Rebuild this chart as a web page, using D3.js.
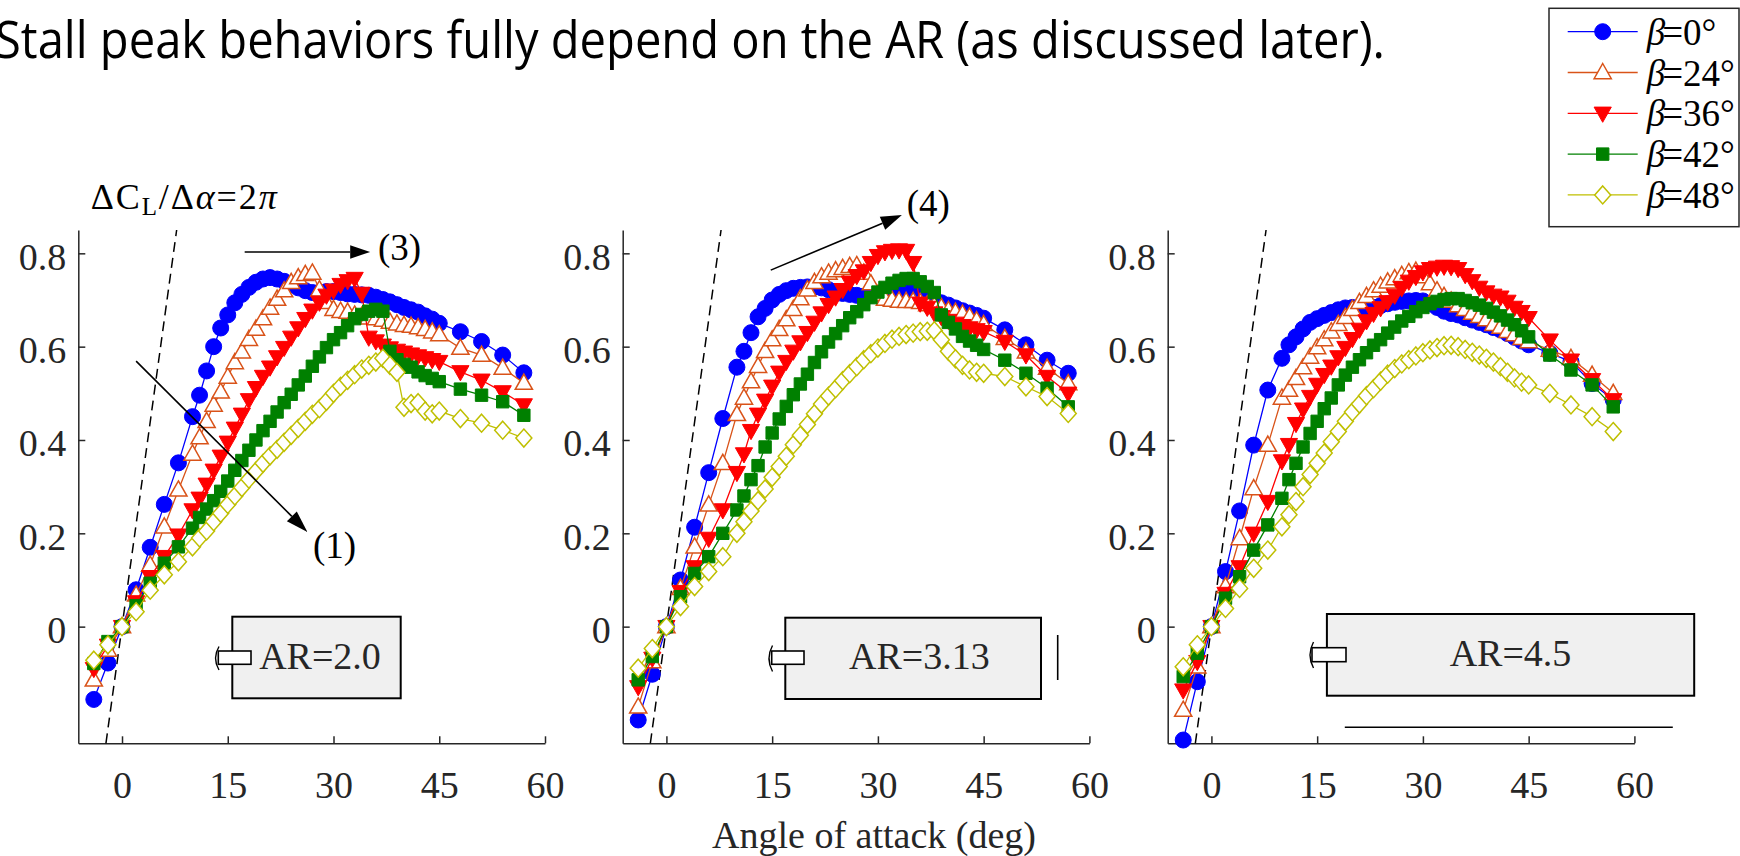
<!DOCTYPE html>
<html>
<head>
<meta charset="utf-8">
<script src="https://cdn.jsdelivr.net/npm/d3@7"></script>
<style>
  body { margin: 0; background: #ffffff; }
  svg { display: block; }
</style>
</head>
<body>
<svg id="chart" width="1740" height="856"></svg>
<script>
// Angle-of-attack sampling (deg), shared by every series
const alphaDeg = [-4, -2, 0, 2, 4, 6, 8,
  10, 11, 12, 13, 14, 15, 16, 17, 18, 19, 20, 21, 22, 23, 24, 25, 26, 27, 28, 29,
  30, 31, 32, 33, 34, 35, 36, 37, 38, 39, 40, 41, 42, 43, 44, 45,
  48, 51, 54, 57];

const betaLabels = ["0", "24", "36", "42", "48"];
const arLabels = ["AR=2.0", "AR=3.13", "AR=4.5"];
const xTicks = [0, 15, 30, 45, 60];
const yTicks = [0, 0.2, 0.4, 0.6, 0.8];
const yTickLabels = ["0", "0.2", "0.4", "0.6", "0.8"];

// Lift coefficient, AR = 2.0
const cl20_b0 = [-0.156, -0.078, 0, 0.079, 0.170, 0.262, 0.351,
  0.450, 0.496, 0.548, 0.600, 0.640, 0.668, 0.694, 0.712, 0.727, 0.738, 0.745, 0.748, 0.745, 0.740, 0.733, 0.726, 0.720, 0.716, 0.716, 0.718,
  0.718, 0.716, 0.713, 0.712, 0.711, 0.710, 0.706, 0.701, 0.696, 0.690, 0.684, 0.679, 0.674, 0.666, 0.659, 0.650,
  0.632, 0.611, 0.582, 0.544];
const cl20_b24 = [-0.114, -0.050, 0, 0.068, 0.132, 0.214, 0.293,
  0.370, 0.405, 0.440, 0.475, 0.503, 0.535, 0.566, 0.589, 0.616, 0.638, 0.660, 0.683, 0.702, 0.720, 0.738, 0.748, 0.755, 0.758, 0.722, 0.695,
  0.680, 0.676, 0.674, 0.668, 0.665, 0.662, 0.660, 0.657, 0.653, 0.649, 0.646, 0.644, 0.641, 0.637, 0.632, 0.626,
  0.597, 0.582, 0.554, 0.522];
const cl20_b36 = [-0.090, -0.040, 0, 0.053, 0.107, 0.150, 0.196,
  0.250, 0.275, 0.305, 0.335, 0.365, 0.395, 0.425, 0.455, 0.486, 0.512, 0.536, 0.556, 0.578, 0.598, 0.620, 0.640, 0.660, 0.678, 0.695, 0.710,
  0.721, 0.733, 0.741, 0.746, 0.714, 0.620, 0.612, 0.603, 0.597, 0.592, 0.588, 0.584, 0.580, 0.576, 0.572, 0.568,
  0.546, 0.528, 0.503, 0.475];
const cl20_b42 = [-0.079, -0.032, 0, 0.045, 0.093, 0.136, 0.171,
  0.211, 0.234, 0.252, 0.270, 0.290, 0.312, 0.335, 0.356, 0.378, 0.400, 0.420, 0.440, 0.460, 0.480, 0.498, 0.518, 0.537, 0.558, 0.578, 0.598,
  0.615, 0.630, 0.645, 0.660, 0.669, 0.676, 0.680, 0.676, 0.590, 0.572, 0.562, 0.556, 0.546, 0.538, 0.532, 0.525,
  0.509, 0.496, 0.482, 0.453];
const cl20_b48 = [-0.072, -0.039, 0, 0.032, 0.078, 0.111, 0.139,
  0.171, 0.190, 0.205, 0.225, 0.243, 0.262, 0.280, 0.298, 0.316, 0.333, 0.350, 0.366, 0.380, 0.395, 0.410, 0.425, 0.440, 0.455, 0.467, 0.483,
  0.500, 0.515, 0.528, 0.540, 0.552, 0.560, 0.567, 0.575, 0.560, 0.545, 0.470, 0.478, 0.480, 0.462, 0.456, 0.462,
  0.446, 0.436, 0.421, 0.404];

// Lift coefficient, AR = 3.13
const cl313_b0 = [-0.200, -0.102, 0, 0.100, 0.213, 0.330, 0.446,
  0.556, 0.590, 0.630, 0.664, 0.682, 0.700, 0.712, 0.720, 0.725, 0.727, 0.728, 0.728, 0.726, 0.722, 0.718, 0.714, 0.712, 0.710, 0.708, 0.710,
  0.714, 0.718, 0.720, 0.722, 0.722, 0.720, 0.716, 0.708, 0.700, 0.694, 0.689, 0.683, 0.677, 0.672, 0.667, 0.661,
  0.636, 0.604, 0.571, 0.543];
const cl313_b24 = [-0.172, -0.075, 0, 0.082, 0.171, 0.261, 0.350,
  0.455, 0.490, 0.525, 0.558, 0.590, 0.615, 0.637, 0.658, 0.680, 0.703, 0.722, 0.738, 0.750, 0.758, 0.763, 0.768, 0.772, 0.774, 0.758, 0.735,
  0.712, 0.702, 0.700, 0.698, 0.697, 0.697, 0.695, 0.690, 0.688, 0.684, 0.678, 0.674, 0.670, 0.664, 0.656, 0.648,
  0.618, 0.589, 0.554, 0.521];
const cl313_b36 = [-0.129, -0.068, 0, 0.075, 0.128, 0.189, 0.250,
  0.330, 0.370, 0.420, 0.455, 0.485, 0.515, 0.545, 0.568, 0.590, 0.610, 0.630, 0.652, 0.672, 0.690, 0.706, 0.722, 0.738, 0.752, 0.762, 0.780,
  0.795, 0.803, 0.806, 0.807, 0.806, 0.780, 0.693, 0.684, 0.672, 0.664, 0.656, 0.650, 0.645, 0.640, 0.636, 0.632,
  0.611, 0.582, 0.536, 0.500];
const cl313_b42 = [-0.114, -0.064, 0, 0.064, 0.114, 0.150, 0.200,
  0.250, 0.280, 0.315, 0.345, 0.385, 0.415, 0.445, 0.472, 0.497, 0.520, 0.541, 0.566, 0.589, 0.610, 0.628, 0.645, 0.662, 0.675, 0.690, 0.705,
  0.717, 0.727, 0.736, 0.742, 0.746, 0.746, 0.739, 0.729, 0.716, 0.668, 0.652, 0.638, 0.622, 0.612, 0.603, 0.594,
  0.571, 0.543, 0.511, 0.471];
const cl313_b48 = [-0.089, -0.047, 0, 0.043, 0.086, 0.118, 0.150,
  0.200, 0.225, 0.248, 0.270, 0.295, 0.320, 0.343, 0.365, 0.390, 0.410, 0.433, 0.456, 0.477, 0.494, 0.510, 0.527, 0.542, 0.557, 0.572, 0.585,
  0.597, 0.607, 0.616, 0.622, 0.626, 0.629, 0.632, 0.633, 0.634, 0.615, 0.590, 0.574, 0.560, 0.550, 0.545, 0.543,
  0.536, 0.514, 0.493, 0.457];

// Lift coefficient, AR = 4.5
const cl45_b0 = [-0.243, -0.118, 0, 0.118, 0.248, 0.389, 0.507,
  0.575, 0.604, 0.621, 0.638, 0.652, 0.660, 0.667, 0.673, 0.679, 0.683, 0.684, 0.683, 0.682, 0.684, 0.688, 0.692, 0.695, 0.697, 0.698, 0.699,
  0.698, 0.692, 0.684, 0.676, 0.671, 0.668, 0.662, 0.657, 0.652, 0.647, 0.641, 0.636, 0.628, 0.620, 0.612, 0.604,
  0.586, 0.568, 0.521, 0.486];
const cl45_b24 = [-0.179, -0.086, 0, 0.086, 0.189, 0.296, 0.389,
  0.490, 0.507, 0.532, 0.555, 0.578, 0.598, 0.615, 0.632, 0.648, 0.663, 0.680, 0.695, 0.708, 0.720, 0.730, 0.739, 0.746, 0.753, 0.759, 0.762,
  0.750, 0.735, 0.720, 0.708, 0.698, 0.688, 0.680, 0.672, 0.665, 0.658, 0.648, 0.642, 0.633, 0.626, 0.618, 0.611,
  0.593, 0.575, 0.539, 0.500];
const cl45_b36 = [-0.136, -0.075, 0, 0.071, 0.128, 0.200, 0.268,
  0.355, 0.390, 0.435, 0.466, 0.493, 0.519, 0.540, 0.558, 0.578, 0.598, 0.617, 0.637, 0.655, 0.671, 0.683, 0.696, 0.710, 0.726, 0.740, 0.750,
  0.760, 0.767, 0.770, 0.772, 0.771, 0.767, 0.754, 0.741, 0.727, 0.717, 0.710, 0.706, 0.697, 0.684, 0.675, 0.662,
  0.614, 0.571, 0.529, 0.486];
const cl45_b42 = [-0.107, -0.057, 0, 0.061, 0.107, 0.164, 0.218,
  0.275, 0.315, 0.350, 0.385, 0.414, 0.440, 0.467, 0.490, 0.518, 0.539, 0.556, 0.572, 0.587, 0.603, 0.615, 0.629, 0.642, 0.655, 0.665, 0.675,
  0.684, 0.692, 0.697, 0.701, 0.703, 0.703, 0.699, 0.694, 0.689, 0.682, 0.674, 0.666, 0.657, 0.647, 0.634, 0.621,
  0.582, 0.550, 0.518, 0.471];
const cl45_b48 = [-0.086, -0.039, 0, 0.039, 0.082, 0.125, 0.164,
  0.214, 0.240, 0.268, 0.300, 0.326, 0.350, 0.372, 0.396, 0.418, 0.440, 0.460, 0.477, 0.495, 0.510, 0.526, 0.541, 0.553, 0.563, 0.572, 0.580,
  0.587, 0.593, 0.598, 0.602, 0.603, 0.600, 0.594, 0.588, 0.582, 0.575, 0.567, 0.557, 0.545, 0.533, 0.524, 0.518,
  0.500, 0.475, 0.450, 0.418];

// Thin-airfoil reference slope dCL/dalpha = 2*pi per radian
const slope2pi = 2 * Math.PI * Math.PI / 180;

const seriesStyle = [
  { color: "#0000ff", marker: "circle",   filled: true },
  { color: "#d95319", marker: "triUp",    filled: false },
  { color: "#ff0000", marker: "triDown",  filled: true },
  { color: "#008000", marker: "square",   filled: true },
  { color: "#bfbf00", marker: "diamond",  filled: false }
];

const panels = [
  { left: 78.3,   data: [cl20_b0, cl20_b24, cl20_b36, cl20_b42, cl20_b48] },
  { left: 622.7,  data: [cl313_b0, cl313_b24, cl313_b36, cl313_b42, cl313_b48] },
  { left: 1167.7, data: [cl45_b0, cl45_b24, cl45_b36, cl45_b42, cl45_b48] }
];

const W = 1740, H = 856;
const plotW = 466.7;
const yTop = 230, yBottom = 743.3;
const serif = "'Liberation Serif', 'Times New Roman', serif";
const axisColor = "#262626";

const svg = d3.select("#chart");
svg.append("rect").attr("width", W).attr("height", H).attr("fill", "#ffffff");

// Sentence fragment above the figure
svg.append("text")
  .attr("x", -5).attr("y", 58)
  .attr("font-family", "'Open Sans', 'Noto Sans', sans-serif")
  .attr("font-size", 51)
  .attr("textLength", 1390)
  .attr("lengthAdjust", "spacingAndGlyphs")
  .attr("fill", "#000")
  .text("Stall peak behaviors fully depend on the AR (as discussed later).");

function markerPath(type) {
  switch (type) {
    case "circle":  return d3.symbol(d3.symbolCircle, Math.PI * 8 * 8)();
    case "triUp":   return "M0,-9L8.6,6.2L-8.6,6.2Z";
    case "triDown": return "M0,9L8.6,-6.2L-8.6,-6.2Z";
    case "square":  return "M-6.2,-6.2H6.2V6.2H-6.2Z";
    case "diamond": return "M0,-9L8,0L0,9L-8,0Z";
  }
}

function arrow(g, x1, y1, x2, y2, len, half) {
  const dx = x2 - x1, dy = y2 - y1, L = Math.hypot(dx, dy);
  const ux = dx / L, uy = dy / L;
  const bx = x2 - ux * len, by = y2 - uy * len;
  g.append("line").attr("x1", x1).attr("y1", y1).attr("x2", bx).attr("y2", by)
    .attr("stroke", "#000").attr("stroke-width", 1.6);
  g.append("path")
    .attr("d", `M${x2},${y2}L${bx - uy * half},${by + ux * half}L${bx + uy * half},${by - ux * half}Z`)
    .attr("fill", "#000");
}

const scales = [];

panels.forEach((p, pi) => {
  const x = d3.scaleLinear().domain([-6.2, 60]).range([p.left, p.left + plotW]);
  const y = d3.scaleLinear().domain([-0.25, 0.85]).range([yBottom, yTop]);
  scales.push({ x, y });
  const g = svg.append("g");

  // axes (left and bottom only, ticks pointing inward)
  const gx = g.append("g").attr("transform", `translate(0,${yBottom})`)
    .call(d3.axisBottom(x).tickValues(xTicks).tickSizeInner(-7).tickSizeOuter(0).tickFormat(d3.format("d")));
  const gy = g.append("g").attr("transform", `translate(${p.left},0)`)
    .call(d3.axisLeft(y).tickValues(yTicks).tickSizeInner(-7).tickSizeOuter(0).tickFormat((d, i) => yTickLabels[i]));
  [gx, gy].forEach(a => {
    a.select(".domain").attr("stroke", axisColor).attr("stroke-width", 1.5);
    a.selectAll(".tick line").attr("stroke", axisColor).attr("stroke-width", 1.5);
    a.selectAll(".tick text").attr("font-family", serif).attr("font-size", 38).attr("fill", axisColor);
  });
  gx.selectAll(".tick text").attr("y", 54.4).attr("dy", null);
  gy.selectAll(".tick text").attr("x", -12).attr("y", 16).attr("dy", null);

  // 2*pi slope reference
  const a0 = -0.25 / slope2pi, a1 = 0.85 / slope2pi;
  g.append("line")
    .attr("x1", x(a0)).attr("y1", y(a0 * slope2pi))
    .attr("x2", x(a1)).attr("y2", y(a1 * slope2pi))
    .attr("stroke", "#000").attr("stroke-width", 1.5).attr("stroke-dasharray", "10,6");

  // measured series
  p.data.forEach((vals, si) => {
    const st = seriesStyle[si];
    const pts = alphaDeg.map((a, i) => ({ a, cl: vals[i] }));
    const sg = g.append("g");
    sg.append("path")
      .attr("d", d3.line().x(d => x(d.a)).y(d => y(d.cl))(pts))
      .attr("fill", "none").attr("stroke", st.color).attr("stroke-width", 1.3);
    sg.selectAll("path.mk").data(pts).join("path").attr("class", "mk")
      .attr("transform", d => `translate(${x(d.a)},${y(d.cl)})`)
      .attr("d", markerPath(st.marker))
      .attr("fill", st.filled ? st.color : "#ffffff")
      .attr("stroke", st.color)
      .attr("stroke-width", st.filled ? 1 : 1.5);
  });
});

// Wing planform sketches with aspect-ratio labels
const boxes = [
  { x0: 232.3, x1: 400.7, y0: 616.7, y1: 698.3, tx0: 218.3, tx1: 251, ty0: 651, ty1: 664.3, bx: 219, by0: 646.5, by1: 670, cx: 320, base: 669 },
  { x0: 785.3, x1: 1041, y0: 617.7, y1: 699, tx0: 771.7, tx1: 804, ty0: 651, ty1: 664.3, bx: 772.5, by0: 645.5, by1: 671.5, cx: 919.3, base: 669 },
  { x0: 1326.9, x1: 1694.2, y0: 614, y1: 695.7, tx0: 1312, tx1: 1346, ty0: 647.7, ty1: 661.7, bx: 1313.5, by0: 642, by1: 668, cx: 1510.5, base: 665.7 }
];
boxes.forEach((b, i) => {
  svg.append("rect").attr("x", b.x0).attr("y", b.y0).attr("width", b.x1 - b.x0).attr("height", b.y1 - b.y0)
    .attr("fill", "#f0f0f0").attr("stroke", "#000").attr("stroke-width", 2);
  svg.append("rect").attr("x", b.tx0).attr("y", b.ty0).attr("width", b.tx1 - b.tx0).attr("height", b.ty1 - b.ty0)
    .attr("fill", "#ffffff").attr("stroke", "#000").attr("stroke-width", 1.6);
  svg.append("path")
    .attr("d", `M${b.bx},${b.by0}Q${b.bx - 7},${(b.by0 + b.by1) / 2} ${b.bx},${b.by1}`)
    .attr("fill", "none").attr("stroke", "#000").attr("stroke-width", 1.4);
  svg.append("text").attr("x", b.cx).attr("y", b.base)
    .attr("text-anchor", "middle").attr("font-family", serif).attr("font-size", 38).attr("fill", "#262626")
    .text(arLabels[i]);
});
svg.append("line").attr("x1", 1057.7).attr("y1", 635).attr("x2", 1057.7).attr("y2", 680)
  .attr("stroke", "#000").attr("stroke-width", 1.6);
svg.append("line").attr("x1", 1344.8).attr("y1", 727.3).attr("x2", 1672.8).attr("y2", 727.3)
  .attr("stroke", "#000").attr("stroke-width", 1.6);

// Annotations
const s1 = scales[0], s2 = scales[1];
const ann = svg.append("g");
arrow(ann, s1.x(2.0), s1.y(0.569), s1.x(26.3), s1.y(0.203), 22, 7);
arrow(ann, s1.x(17.4), s1.y(0.803), s1.x(35.2), s1.y(0.803), 20, 6.7);
arrow(ann, s2.x(14.8), s2.y(0.764), s2.x(33.4), s2.y(0.882), 21, 7);
[["(1)", s1.x(27.1), s1.y(0.147)], ["(3)", s1.x(36.3), s1.y(0.785)], ["(4)", s2.x(34.1), s2.y(0.88)]]
  .forEach(([t, tx, ty]) => {
    ann.append("text").attr("x", tx).attr("y", ty).attr("font-family", serif).attr("font-size", 37)
      .attr("fill", "#000").text(t);
  });

const slopeLbl = ann.append("text").attr("x", s1.x(-4.44)).attr("y", s1.y(0.895))
  .attr("font-family", serif).attr("font-size", 36).attr("fill", "#000")
  .attr("textLength", 186).attr("lengthAdjust", "spacing");
slopeLbl.append("tspan").text("\u0394C");
slopeLbl.append("tspan").attr("font-size", 25).attr("dy", 6).text("L");
slopeLbl.append("tspan").attr("dy", -6).text("/\u0394");
slopeLbl.append("tspan").attr("font-style", "italic").text("\u03b1");
slopeLbl.append("tspan").text("=2");
slopeLbl.append("tspan").attr("font-style", "italic").text("\u03c0");

// Legend
const lg = svg.append("g");
lg.append("rect").attr("x", 1549).attr("y", 8.3).attr("width", 190).attr("height", 218.4)
  .attr("fill", "#ffffff").attr("stroke", axisColor).attr("stroke-width", 1.5);
seriesStyle.forEach((st, i) => {
  const cy = 31.7 + i * 40.8;
  lg.append("line").attr("x1", 1567.7).attr("x2", 1637.7).attr("y1", cy).attr("y2", cy)
    .attr("stroke", st.color).attr("stroke-width", 1.3);
  lg.append("path").attr("transform", `translate(1602.7,${cy})`).attr("d", markerPath(st.marker))
    .attr("fill", st.filled ? st.color : "#ffffff").attr("stroke", st.color)
    .attr("stroke-width", st.filled ? 1 : 1.5);
  const t = lg.append("text").attr("x", 1646.7).attr("y", cy + 13)
    .attr("font-family", serif).attr("font-size", 37).attr("fill", "#000");
  t.append("tspan").attr("font-style", "italic").text("\u03b2");
  t.append("tspan").attr("dx", -3).text("=" + betaLabels[i] + "\u00b0");
});

// Shared x-axis title
svg.append("text").attr("x", 874).attr("y", 848).attr("text-anchor", "middle")
  .attr("font-family", serif).attr("font-size", 38).attr("fill", "#262626")
  .text("Angle of attack (deg)");
</script>
</body>
</html>
